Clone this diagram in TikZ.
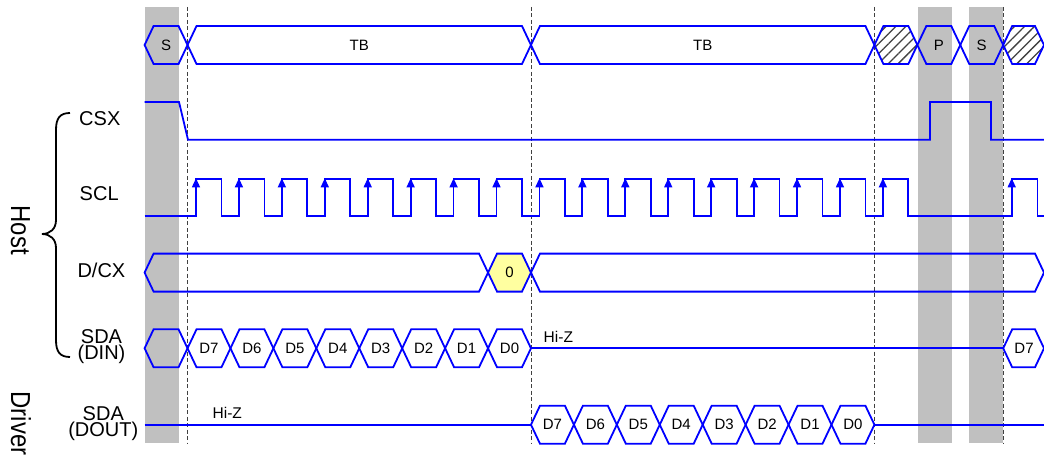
\documentclass[tikz,border=0pt]{standalone}
\usepackage{fontspec}
\setmainfont{Liberation Sans}
\usetikzlibrary{patterns.meta}
\definecolor{wblue}{RGB}{0,0,255}
\definecolor{bargray}{RGB}{192,192,192}
\definecolor{hiyel}{RGB}{255,255,160}
\tikzset{
  wave/.style={draw=wblue, line width=1.8pt, line join=miter},
  hatchcell/.style={wave, pattern={Lines[angle=45,distance=7pt,line width=1.3pt]}, pattern color=black!75},
  yelcell/.style={wave, fill=hiyel},
  celltxt/.style={font=\fontsize{15}{17}\selectfont, inner sep=0pt},
  hiztxt/.style={font=\fontsize{15.5}{17}\selectfont, inner sep=0pt, anchor=base west},
  sigtxt/.style={font=\fontsize{20}{22}\selectfont, inner sep=0pt, anchor=base},
  sig2txt/.style={font=\fontsize{20}{16.5}\selectfont, inner sep=0pt, anchor=base, align=center},
  grptxt/.style={font=\fontsize{27.5}{30}\selectfont, inner sep=0pt, rotate=-90, anchor=base west},
  guide/.style={draw=black!75, line width=0.8pt, dash pattern=on 4pt off 2.5pt},
  bar/.style={fill=bargray, draw=none},
  bracestyle/.style={draw=black, line width=1.8pt},
}
\newcommand{\hexpath}[4]{%
  \path[#1] (#2,#4) -- ({#2+9},{#4-19}) -- ({#3-9},{#4-19}) -- (#3,#4) -- ({#3-9},{#4+19}) -- ({#2+9},{#4+19}) -- cycle;}
\begin{document}
\begin{tikzpicture}[x=1pt,y=-1pt]
\useasboundingbox (0,0) rectangle (1044,457);
\clip (0,0) rectangle (1044,457);
% gray bars
\path[bar] (144.6,7) rectangle (179,443);
\path[bar] (918,7) rectangle (951.7,443);
\path[bar] (969,7) rectangle (1003.2,443);
% dashed guides
\foreach \gx in {187.53,530.97,874.41,1003.2} \draw[guide] (\gx,7) -- (\gx,443);
% top bus
\hexpath{wave}{144.6}{187.53}{45}
\hexpath{wave}{187.53}{530.97}{45}
\hexpath{wave}{530.97}{874.41}{45}
\hexpath{hatchcell}{874.41}{917.34}{45}
\hexpath{wave}{917.34}{960.27}{45}
\hexpath{wave}{960.27}{1003.2}{45}
\hexpath{hatchcell}{1003.2}{1044}{45}
\node[celltxt] (tS1) at (166.07,45) {S};
\node[celltxt] (tTB1) at (359.25,45) {TB};
\node[celltxt] (tTB2) at (702.69,45) {TB};
\node[celltxt] (tP) at (938.8,45) {P};
\node[celltxt] (tS2) at (981.7,45) {S};
% CSX
\draw[wave] (144.6,102) -- (179,102) -- (188,139.7) -- (930,139.7) -- (930,102) -- (991,102) -- (991,139.7) -- (1044,139.7);
% SCL
\draw[wave] (144.6,216) foreach \n in {0,...,16} { -- ({196+42.93*\n},216) -- ({196+42.93*\n},178.7) -- ({221.5+42.93*\n},178.7) -- ({221.5+42.93*\n},216) } -- (1011.7,216) -- (1011.7,178.7) -- (1037.5,178.7) -- (1037.5,216) -- (1044,216);
\foreach \n in {0,...,16} \fill[wblue] ({196+42.93*\n-4.2},187.3) -- ({196+42.93*\n+4.2},187.3) -- ({196+42.93*\n},178.3) -- cycle;
\fill[wblue] (1007.5,187.3) -- (1015.9,187.3) -- (1011.7,178.3) -- cycle;
% D/CX
\hexpath{wave}{144.6}{488.04}{272.6}
\hexpath{yelcell}{488.04}{530.97}{272.6}
\hexpath{wave}{530.97}{1044}{272.6}
\node[celltxt] (dc0) at (509.5,272.6) {0};
% SDA (DIN)
\hexpath{wave}{144.6}{187.53}{348.3}
\foreach \i/\lab in {0/D7,1/D6,2/D5,3/D4,4/D3,5/D2,6/D1,7/D0} {
  \hexpath{wave}{187.53+42.93*\i}{230.46+42.93*\i}{348.3}
  \node[celltxt] (din\i) at ({209+42.93*\i},348.3) {\lab};
}
\draw[wave] (530.97,348.3) -- (1003.2,348.3);
\hexpath{wave}{1003.2}{1044}{348.3}
\node[celltxt] (din8) at (1024,348.3) {D7};
\node[hiztxt] (hizA) at (543.5,342.3) {Hi-Z};
% SDA (DOUT)
\draw[wave] (144.6,424.7) -- (530.97,424.7);
\foreach \i/\lab in {0/D7,1/D6,2/D5,3/D4,4/D3,5/D2,6/D1,7/D0} {
  \hexpath{wave}{530.97+42.93*\i}{573.9+42.93*\i}{424.7}
  \node[celltxt] (dout\i) at ({552.44+42.93*\i},424.7) {\lab};
}
\draw[wave] (874.41,424.7) -- (1044,424.7);
\node[hiztxt] (hizB) at (212.5,418.5) {Hi-Z};
% signal names
\node[sigtxt] (csx) at (99.8,126) {CSX};
\node[sigtxt] (scl) at (99.2,201) {SCL};
\node[sigtxt] (dcx) at (101.4,277.3) {D/CX};
\node[sig2txt] (sdain) at (101.5,359.8) {SDA\\(DIN)};
\node[sig2txt] (sdaout) at (103.3,436.8) {SDA\\(DOUT)};
% group labels
\node[grptxt] (host) at (11,205.5) {\scalebox{0.87}[1]{Host}};
\node[grptxt] (driver) at (11,391.5) {\scalebox{0.87}[1]{Driver}};
% brace
\draw[bracestyle] (70,113) .. controls (60,113) and (56,118) .. (56,130) -- (56,220) .. controls (56,229) and (50,234) .. (42,234) .. controls (50,234) and (56,239) .. (56,248) -- (56,340) .. controls (56,352) and (60,357) .. (70,357);
\end{tikzpicture}
\end{document}
